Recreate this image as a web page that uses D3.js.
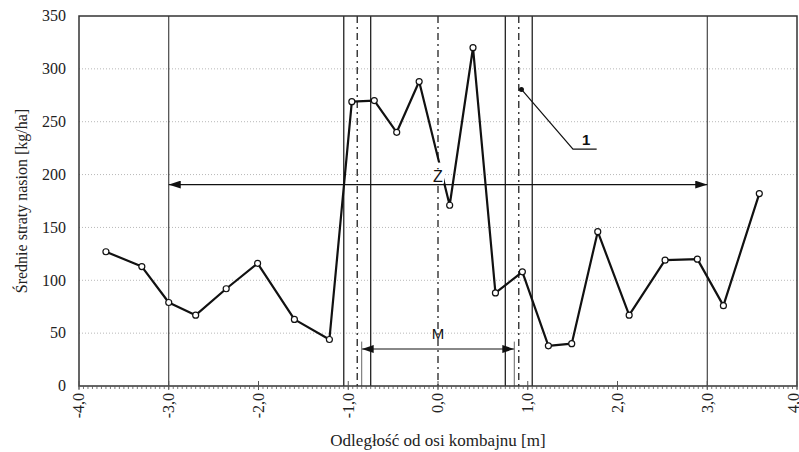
<!DOCTYPE html>
<html>
<head>
<meta charset="utf-8">
<script src="https://cdn.jsdelivr.net/npm/d3@7"></script>
<style>
  body { margin: 0; background: #fff; }
  svg { display: block; }
  .serif { font-family: "Liberation Serif", "Times New Roman", Times, serif; }
  .sans { font-family: "Liberation Sans", Arial, Helvetica, sans-serif; }
</style>
</head>
<body>
<div id="chart"></div>
<script>
// distance from combine axis [m] and mean seed losses [kg/ha]
var xs = [-3.7, -3.3, -3.0, -2.7, -2.36, -2.01, -1.6, -1.21, -0.96, -0.71, -0.46, -0.21,
          0.13, 0.39, 0.64, 0.94, 1.23, 1.49, 1.78, 2.13, 2.53, 2.89, 3.18, 3.58];
var losses = [127, 113, 79, 67, 92, 116, 63, 44, 269, 270, 240, 288,
              171, 320, 88, 108, 38, 40, 146, 67, 119, 120, 76, 182];
var xTicks = [-4, -3, -2, -1, 0, 1, 2, 3, 4];
var yTicks = [0, 50, 100, 150, 200, 250, 300, 350];
// reference lines (m)
var solidLines = [-3.0, -1.05, -0.75, 0.75, 1.05, 3.0];
var dashDotLines = [-0.9, 0, 0.9];
// annotation spans
var spanZ = [-3.0, 3.0], levelZ = 190.5;
var spanM = [-0.85, 0.85], levelM = 35;

var width = 799, height = 452;
var margin = {top: 16, right: 2, bottom: 66, left: 79};

var svg = d3.select("#chart").append("svg")
    .attr("width", width)
    .attr("height", height);

var x = d3.scaleLinear().domain([-4, 4]).range([margin.left, width - margin.right]);
var y = d3.scaleLinear().domain([0, 350]).range([height - margin.bottom, margin.top]);

var defs = svg.append("defs");
defs.append("marker")
    .attr("id", "arrow")
    .attr("viewBox", "0 0 12 8")
    .attr("refX", 12).attr("refY", 4)
    .attr("markerWidth", 12).attr("markerHeight", 8)
    .attr("markerUnits", "userSpaceOnUse")
    .attr("orient", "auto-start-reverse")
  .append("path").attr("d", "M0,0 L12,4 L0,8 Z").attr("fill", "#111");

// grid
svg.append("g").selectAll("line")
    .data(yTicks.filter(function(d){ return d > 0 && d < 350; }))
  .enter().append("line")
    .attr("x1", x(-4)).attr("x2", x(4))
    .attr("y1", function(d){ return y(d); })
    .attr("y2", function(d){ return y(d); })
    .attr("stroke", "#b8b8b8")
    .attr("stroke-width", 1)
    .attr("stroke-dasharray", "1,2");

// vertical reference lines
svg.append("g").selectAll("line")
    .data(solidLines)
  .enter().append("line")
    .attr("x1", function(d){ return x(d); })
    .attr("x2", function(d){ return x(d); })
    .attr("y1", y(350)).attr("y2", y(0))
    .attr("stroke", "#222")
    .attr("stroke-width", function(d){ return Math.abs(d) === 3 ? 1 : 1.3; });

svg.append("g").selectAll("line")
    .data(dashDotLines)
  .enter().append("line")
    .attr("x1", function(d){ return x(d); })
    .attr("x2", function(d){ return x(d); })
    .attr("y1", y(350)).attr("y2", y(0))
    .attr("stroke", "#222")
    .attr("stroke-width", 1.3)
    .attr("stroke-dasharray", "7,4,2,4");

// M span
svg.append("g").selectAll("line")
    .data(spanM)
  .enter().append("line")
    .attr("x1", function(d){ return x(d); })
    .attr("x2", function(d){ return x(d); })
    .attr("y1", y(levelM + 7)).attr("y2", y(0))
    .attr("stroke", "#666")
    .attr("stroke-width", 1);
svg.append("line")
    .attr("x1", x(spanM[0])).attr("x2", x(spanM[1]))
    .attr("y1", y(levelM)).attr("y2", y(levelM))
    .attr("stroke", "#888")
    .attr("stroke-width", 2)
    .attr("marker-start", "url(#arrow)")
    .attr("marker-end", "url(#arrow)");
svg.append("text")
    .attr("class", "sans")
    .attr("x", x(0)).attr("y", y(levelM) - 10)
    .attr("text-anchor", "middle")
    .attr("font-size", 15)
    .attr("fill", "#111")
    .text("M");

// Z span
svg.append("line")
    .attr("x1", x(spanZ[0])).attr("x2", x(spanZ[1]))
    .attr("y1", y(levelZ)).attr("y2", y(levelZ))
    .attr("stroke", "#111")
    .attr("stroke-width", 1.3)
    .attr("marker-start", "url(#arrow)")
    .attr("marker-end", "url(#arrow)");

// data line
var line = d3.line()
    .x(function(d, i){ return x(xs[i]); })
    .y(function(d){ return y(d); });

svg.append("path")
    .datum(losses)
    .attr("fill", "none")
    .attr("stroke", "#111")
    .attr("stroke-width", 2.2)
    .attr("stroke-linejoin", "round")
    .attr("d", line);

// label Z with white background over the line
var zLabel = svg.append("g");
zLabel.append("rect")
    .attr("x", x(0) - 6).attr("y", y(levelZ) - 22)
    .attr("width", 12).attr("height", 21)
    .attr("fill", "#fff");
zLabel.append("text")
    .attr("class", "sans")
    .attr("x", x(0)).attr("y", y(levelZ) - 3)
    .attr("text-anchor", "middle")
    .attr("font-size", 16)
    .attr("fill", "#111")
    .text("Ż");

svg.append("g").selectAll("circle")
    .data(losses)
  .enter().append("circle")
    .attr("cx", function(d, i){ return x(xs[i]); })
    .attr("cy", function(d){ return y(d); })
    .attr("r", 3)
    .attr("fill", "#fff")
    .attr("stroke", "#111")
    .attr("stroke-width", 1.2);

// leader "1"
var leader = [[0.93, 280.5], [1.504, 224], [1.768, 224]];
svg.append("path")
    .attr("d", d3.line().x(function(d){ return x(d[0]); }).y(function(d){ return y(d[1]); })(leader))
    .attr("fill", "none")
    .attr("stroke", "#111")
    .attr("stroke-width", 1.2);
svg.append("circle")
    .attr("cx", x(leader[0][0])).attr("cy", y(leader[0][1]))
    .attr("r", 2.5).attr("fill", "#111");
svg.append("text")
    .attr("class", "sans")
    .attr("x", x(1.65)).attr("y", y(224) - 4)
    .attr("text-anchor", "middle")
    .attr("font-size", 15)
    .attr("font-weight", "bold")
    .attr("fill", "#111")
    .text("1");

// frame
svg.append("rect")
    .attr("x", x(-4)).attr("y", y(350))
    .attr("width", x(4) - x(-4)).attr("height", y(0) - y(350))
    .attr("fill", "none")
    .attr("stroke", "#333")
    .attr("stroke-width", 1.5);

// x ticks
svg.append("g").selectAll("line")
    .data(d3.range(-80, 81).map(function(i){ return i / 20; }))
  .enter().append("line")
    .attr("x1", function(d){ return x(d); })
    .attr("x2", function(d){ return x(d); })
    .attr("y1", y(0)).attr("y2", y(0) + 3)
    .attr("stroke", "#555")
    .attr("stroke-width", 0.8);
svg.append("g").selectAll("line")
    .data(xTicks)
  .enter().append("line")
    .attr("x1", function(d){ return x(d); })
    .attr("x2", function(d){ return x(d); })
    .attr("y1", y(0) - 5).attr("y2", y(0) + 4)
    .attr("stroke", "#555")
    .attr("stroke-width", 1);

var fmt = function(d){ return d3.format(".1f")(d).replace(".", ",").replace("\u2212", "-"); };
svg.append("g").selectAll("text")
    .data(xTicks)
  .enter().append("text")
    .attr("class", "serif")
    .attr("font-size", 16)
    .attr("fill", "#222")
    .attr("text-anchor", "end")
    .attr("dy", "0.33em")
    .attr("transform", function(d){ return "translate(" + Math.min(x(d), 794) + "," + (y(0) + 7) + ") rotate(-90)"; })
    .text(fmt);

svg.append("g").selectAll("text")
    .data(yTicks)
  .enter().append("text")
    .attr("class", "serif")
    .attr("font-size", 16)
    .attr("fill", "#222")
    .attr("text-anchor", "end")
    .attr("x", 66)
    .attr("y", function(d){ return y(d); })
    .attr("dy", "0.33em")
    .text(function(d){ return d; });

// titles
svg.append("text")
    .attr("class", "serif")
    .attr("font-size", 17)
    .attr("fill", "#222")
    .attr("x", x(0)).attr("y", 446)
    .attr("text-anchor", "middle")
    .text("Odległość od osi kombajnu [m]");
svg.append("text")
    .attr("class", "serif")
    .attr("font-size", 16)
    .attr("fill", "#222")
    .attr("text-anchor", "middle")
    .attr("transform", "translate(27," + y(175) + ") rotate(-90)")
    .text("Średnie straty nasion [kg/ha]");
</script>
</body>
</html>
